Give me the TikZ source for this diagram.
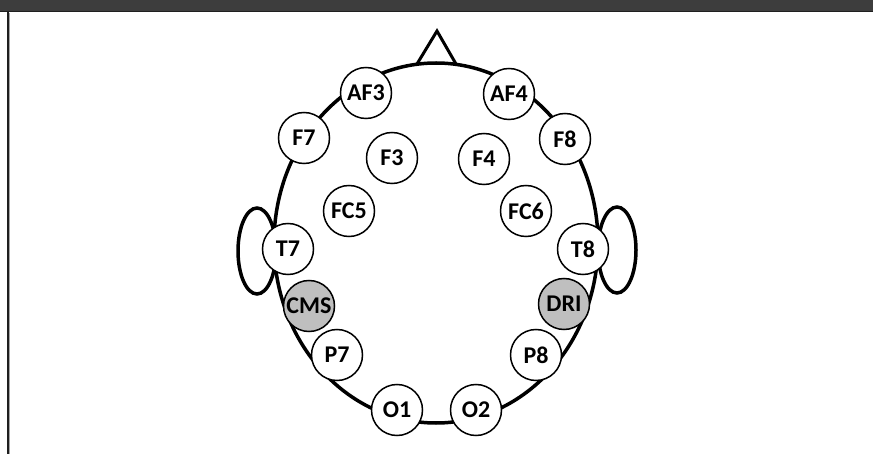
\documentclass[tikz,border=0pt]{standalone}
\usepackage{fontspec}
\setmainfont{Carlito}
\begin{document}
\begin{tikzpicture}[x=1pt,y=-1pt,
  electrode/.style={circle,draw=black,line width=1.5pt,fill=white,minimum size=51pt,inner sep=0pt,font=\fontsize{24}{26}\selectfont\bfseries},
  refel/.style={electrode,fill=gray!50},
  headline/.style={line width=3.5pt,black}]
\useasboundingbox (0,0) rectangle (873,454);
\fill[white] (0,0) rectangle (873,454);
% top bar and left border
\fill[black!76] (0,0) rectangle (873,11);
\draw[black!88,line width=1.5pt] (0,11.5) -- (873,11.5);
\draw[black!88,line width=2pt] (8,12) -- (8,454);
\draw[black!35,line width=0.8pt] (9.5,13) -- (9.5,454);
% ears
\draw[headline] (257,251) ellipse [x radius=19, y radius=43];
\draw[headline] (617,250) ellipse [x radius=19, y radius=43];
% head
\draw[headline,fill=white] (436,243) ellipse [x radius=162, y radius=180];
% nose
\draw[line width=3pt,line join=miter] (417,64) -- (437,31) -- (456,64);
% electrodes
\node[electrode] (AF3) at (366,93) {AF3};
\node[electrode] (AF4) at (509,94) {AF4};
\node[electrode] (F7) at (304,138) {F7};
\node[electrode] (F8) at (565,139) {F8};
\node[electrode] (F3) at (392,158) {F3};
\node[electrode] (F4) at (484,159) {F4};
\node[electrode] (FC5) at (349,211) {FC5};
\node[electrode] (FC6) at (526,211) {FC6};
\node[electrode] (T7) at (288,249) {T7};
\node[electrode] (T8) at (583,249) {T8};
\node[refel] (CMS) at (309,306) {CMS};
\node[refel] (DRI) at (564,304) {DRI};
\node[electrode] (P7) at (337,355) {P7};
\node[electrode] (P8) at (536,355) {P8};
\node[electrode] (O1) at (397,410) {O1};
\node[electrode] (O2) at (476,410) {O2};
\end{tikzpicture}
\end{document}
